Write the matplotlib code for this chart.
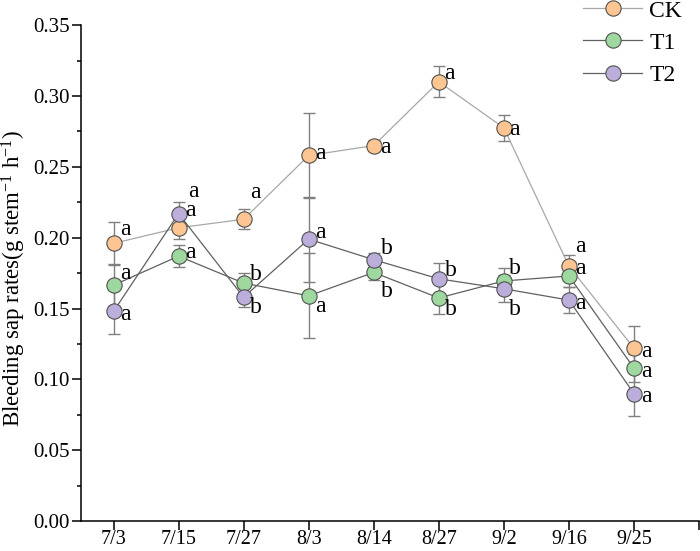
import numpy as np
import matplotlib
matplotlib.use("Agg")
import matplotlib.pyplot as plt
from matplotlib.ticker import MultipleLocator

plt.rcParams['font.family'] = ['Liberation Serif', 'DejaVu Serif']
plt.rcParams['mathtext.fontset'] = 'custom'
plt.rcParams['mathtext.rm'] = 'Liberation Serif'
plt.rcParams['mathtext.it'] = 'Liberation Serif:italic'

dates = ["7/3", "7/15", "7/27", "8/3", "8/14", "8/27", "9/2", "9/16", "9/25"]

ck = [0.196, 0.207, 0.213, 0.258, 0.265, 0.310, 0.2775, 0.180, 0.122]
t1 = [0.1665, 0.187, 0.168, 0.159, 0.1755, 0.1575, 0.1695, 0.173, 0.108]
t2 = [0.148, 0.217, 0.158, 0.199, 0.1845, 0.171, 0.164, 0.156, 0.090]

ck_err = [0.015, 0.008, 0.007, 0.030, 0.004, 0.011, 0.009, 0.008, 0.016]
t1_err = [0.015, 0.008, 0.007, 0.030, 0.005, 0.0115, 0.009, 0.008, 0.010]
t2_err = [0.016, 0.008, 0.007, 0.030, 0.005, 0.011, 0.0095, 0.009, 0.016]

ck_let = ["a", "a", "a", "a", "a", "a", "a", "a", "a"]
t1_let = ["a", "a", "b", "a", "b", "b", "b", "a", "a"]
t2_let = ["a", "a", "b", "a", "b", "b", "b", "a", "a"]

# letter offsets in pixels (dx, dy), dy positive = up
ck_off = [(12, 14), (15, 36), (12, 27), (12, 2), (12, -2), (11, 8), (11, -2), (11, 20), (12, -3)]
t1_off = [(12, 12), (12, 4), (12, 9), (12, -11), (13, -19), (12, -12), (11, 12), (11, 7), (12, -3)]
t2_off = [(12, -3), (12, 3), (12, -10), (12, 7), (13, 11), (12, 8), (11, -21), (11, -3), (12, -3)]

x = np.arange(1, len(dates) + 1)

fig = plt.figure(figsize=(7, 5.51), dpi=100)
ax = fig.add_axes([0.1157, 0.054, 0.8829, 0.9005])

series = [
    ("CK", ck, ck_err, ck_let, ck_off, "#fdc592", "#a8a8a8"),
    ("T1", t1, t1_err, t1_let, t1_off, "#9fd89f", "#606060"),
    ("T2", t2, t2_err, t2_let, t2_off, "#bcaedb", "#606060"),
]

for name, vals, errs, lets, offs, fc, lc in series:
    ax.errorbar(x, vals, yerr=errs, fmt="none", ecolor="#808080",
                elinewidth=1, capsize=4, capthick=1, zorder=2)
    ax.plot(x, vals, color=lc, lw=0.9, marker="o", markersize=11,
            markerfacecolor=fc, markeredgecolor="#505050",
            markeredgewidth=0.8, label=name, zorder=3)
    for xi, yi, l, (dx, dy) in zip(x, vals, lets, offs):
        ax.annotate(l, (xi, yi), xytext=(dx, dy), textcoords="offset pixels",
                    ha="center", va="center", fontsize=17, zorder=4)

ax.set_xlim(0.5, 10)
ax.set_ylim(0, 0.35)
ax.set_xticks(list(x) + [10])
ax.set_xticklabels(dates + [""])
ax.yaxis.set_major_locator(MultipleLocator(0.05))
ax.yaxis.set_minor_locator(MultipleLocator(0.025))
ax.yaxis.set_major_formatter(plt.FormatStrFormatter("%.2f"))
ax.tick_params(axis="both", which="major", direction="out", length=6.5,
               width=1.1, labelsize=15)
ax.tick_params(axis="x", labelsize=14.5, pad=0)
ax.tick_params(axis="y", which="minor", direction="out", length=3, width=1.1)
ax.tick_params(axis="y", pad=1.5)
for s in ["top", "right"]:
    ax.spines[s].set_visible(False)
for s in ["left", "bottom"]:
    ax.spines[s].set_linewidth(1.1)

ax.set_ylabel("Bleeding sap rates(g stem$^{-1}$ h$^{-1}$)", fontsize=16.5)
ax.yaxis.set_label_coords(-0.085, 0.49)

ax.legend(loc="upper left", bbox_to_anchor=(583 / 700, 1.0),
          bbox_transform=fig.transFigure, frameon=False, fontsize=17,
          handlelength=2.5, handletextpad=0.3, labelspacing=0.45,
          borderpad=0, borderaxespad=0)

fig.savefig("out.png", dpi=100)
